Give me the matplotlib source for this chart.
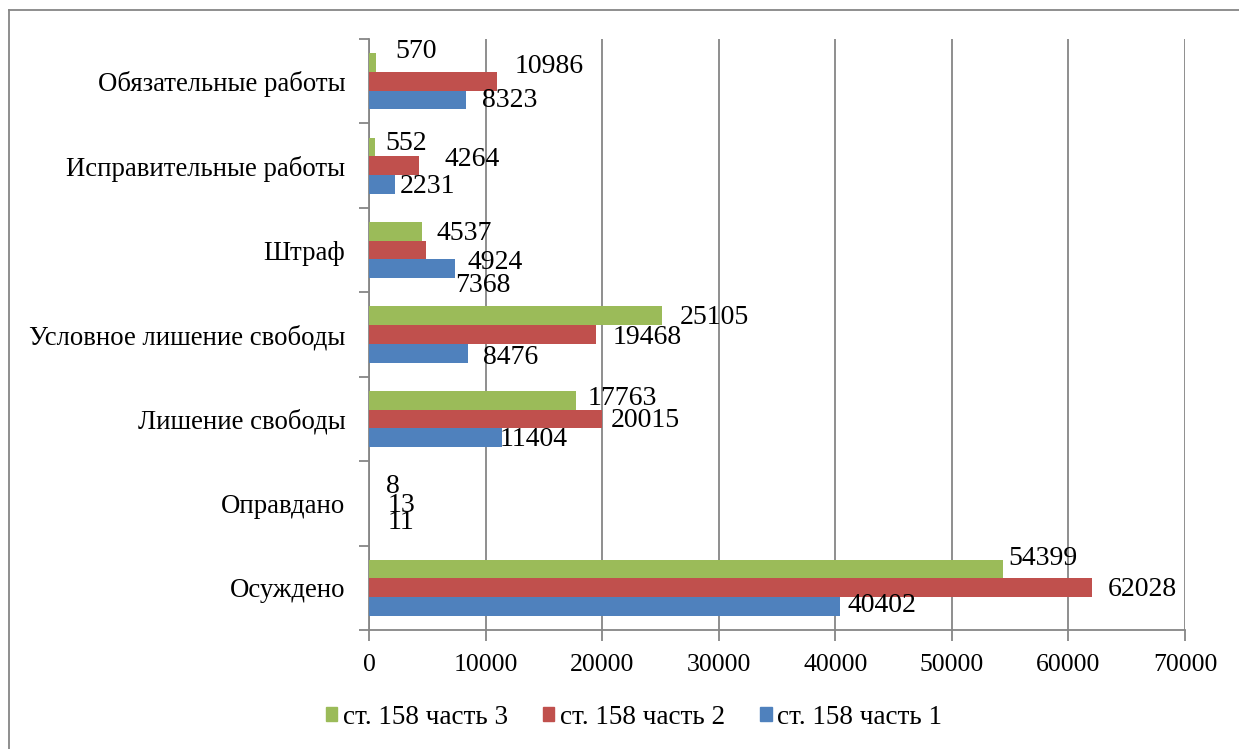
import matplotlib
matplotlib.use("Agg")
import matplotlib.pyplot as plt
from matplotlib.patches import Patch
from matplotlib.lines import Line2D
import numpy as np

plt.rcParams['font.family'] = ['Liberation Serif', 'DejaVu Serif']

# Categories bottom-to-top (axis order)
categories = ["Осуждено", "Оправдано", "Лишение свободы", "Условное лишение свободы",
              "Штраф", "Исправительные работы", "Обязательные работы"]
part1 = [40402, 11, 11404, 8476, 7368, 2231, 8323]
part2 = [62028, 13, 20015, 19468, 4924, 4264, 10986]
part3 = [54399, 8, 17763, 25105, 4537, 552, 570]
series_names = ["ст. 158 часть 1", "ст. 158 часть 2", "ст. 158 часть 3"]
x_ticks = [0, 10000, 20000, 30000, 40000, 50000, 60000, 70000]

colors = ["#4F81BD", "#C0504D", "#9BBB59"]

# label offsets in pixels (dx right, dy down) per series, per category
offs1 = [(8, -1), (18, 0), (-2, 2), (15, 4), (0, 17), (5, 2), (16, 1)]
offs2 = [(16, 2), (18, 2), (8, 2), (17, 3), (41, 12), (26, -6), (18, -15)]
offs3 = [(5, -11), (17, 2), (12, -2), (18, 2), (15, 2), (10, -3), (20, -11)]

W, H = 1239, 749
fig = plt.figure(figsize=(W / 100, H / 100), dpi=100)
ax = fig.add_axes([369 / W, 1 - 630 / H, (1185 - 369) / W, (630 - 39) / H])

y = np.arange(len(categories))
bh = 0.222
grid_c = "#868686"

for vals, col, dy_bar, offs in [(part1, colors[0], -bh, offs1),
                                (part2, colors[1], 0, offs2),
                                (part3, colors[2], bh, offs3)]:
    ax.barh(y + dy_bar, vals, height=bh, color=col, zorder=3)
    for yi, v, (dx, dy) in zip(y, vals, offs):
        ax.annotate(str(v), xy=(v, yi + dy_bar), xytext=(dx, -dy),
                    textcoords="offset pixels", ha="left", va="center",
                    fontsize=20, zorder=5)

ax.set_xlim(0, 70000)
ax.set_ylim(-0.5, len(categories) - 0.5)
ax.set_xticks(x_ticks)
ax.set_xticklabels([str(t) for t in x_ticks], fontsize=18.5)
ax.set_yticks(y)
ax.set_yticklabels(categories, fontsize=19.3)
ax.set_yticks(np.arange(-0.5, len(categories), 1), minor=True)
ax.tick_params(axis="y", which="major", length=0, pad=17)
ax.tick_params(axis="y", which="minor", length=7, width=1.3, color=grid_c, direction="out")
ax.tick_params(axis="x", length=8, width=1.3, color=grid_c, direction="out", pad=9)

ax.grid(axis="x", color=grid_c, linewidth=1.3, zorder=0)
ax.set_axisbelow(True)
for s in ["top", "right"]:
    ax.spines[s].set_visible(False)
for s in ["left", "bottom"]:
    ax.spines[s].set_color(grid_c)
    ax.spines[s].set_linewidth(1.3)

handles = [Patch(color=colors[2], label=series_names[2]),
           Patch(color=colors[1], label=series_names[1]),
           Patch(color=colors[0], label=series_names[0])]
fig.legend(handles=handles, loc="center", bbox_to_anchor=(634 / W, 1 - 717 / H),
           ncol=3, frameon=False, fontsize=19.5, handlelength=0.42, handleheight=0.42,
           handletextpad=0.2, columnspacing=1.3)

# outer chart border (top and left visible)
fig.add_artist(Line2D([9 / W, 1.0], [1 - 10 / H, 1 - 10 / H], color=grid_c, linewidth=1.3))
fig.add_artist(Line2D([9 / W, 9 / W], [0.0, 1 - 10 / H], color=grid_c, linewidth=1.3))

fig.savefig("out.png", dpi=100)
